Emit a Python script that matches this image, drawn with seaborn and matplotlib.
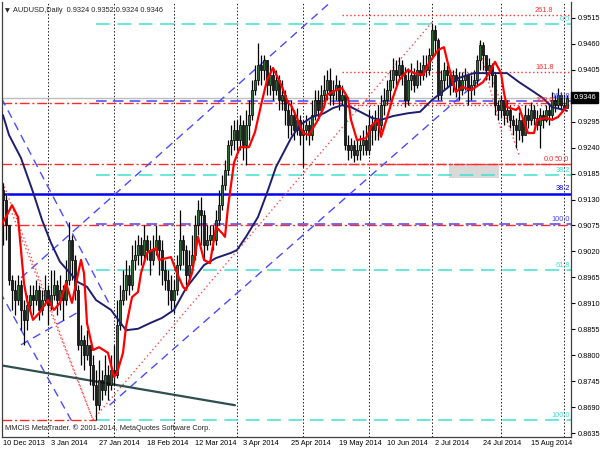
import matplotlib
matplotlib.use("Agg")
import matplotlib.pyplot as plt
import matplotlib.transforms as mtransforms
import numpy as np
import pandas as pd
import seaborn as sns

sns.set_style("white")
plt.rcParams['font.family'] = ['Liberation Sans', 'DejaVu Sans']

# ---------------- data ----------------
first_open = 0.9150
closes = [
    0.9129, 0.9076, 0.8959, 0.8938, 0.8917, 0.8949, 0.8896, 0.8875, 0.8906, 0.8928,
    0.8917, 0.8938, 0.8896, 0.8917, 0.8938, 0.8906, 0.8928, 0.8949, 0.8917, 0.8938,
    0.8917, 0.8959, 0.9044, 0.9002, 0.8938, 0.8822, 0.8832, 0.8801, 0.8822, 0.8779,
    0.8737, 0.8694, 0.8747, 0.8726, 0.8758, 0.8737, 0.8769, 0.8758, 0.8864, 0.8917,
    0.8938, 0.8970, 0.8949, 0.9002, 0.9012, 0.9034, 0.9012, 0.9044, 0.9023, 0.9002,
    0.9023, 0.9044, 0.9023, 0.8981, 0.8959, 0.8938, 0.8917, 0.8938, 0.8991, 0.9044,
    0.9023, 0.8970, 0.8991, 0.9012, 0.9076, 0.9108, 0.9097, 0.9034, 0.9044, 0.9055,
    0.9044, 0.9087, 0.9118, 0.9161, 0.9193, 0.9246, 0.9256, 0.9277, 0.9256, 0.9288,
    0.9246, 0.9288, 0.9309, 0.9362, 0.9383, 0.9415, 0.9405, 0.9426, 0.9373, 0.9394,
    0.9362, 0.9383, 0.9341, 0.9352, 0.9320, 0.9288, 0.9309, 0.9277, 0.9299, 0.9267,
    0.9277, 0.9288, 0.9267, 0.9309, 0.9341, 0.9320, 0.9352, 0.9362, 0.9383, 0.9352,
    0.9362, 0.9373, 0.9341, 0.9352, 0.9246, 0.9235, 0.9246, 0.9224, 0.9235, 0.9246,
    0.9256, 0.9235, 0.9288, 0.9277, 0.9299, 0.9288, 0.9330, 0.9341, 0.9362, 0.9383,
    0.9405, 0.9394, 0.9415, 0.9394, 0.9341, 0.9383, 0.9394, 0.9373, 0.9405, 0.9394,
    0.9415, 0.9405, 0.9436, 0.9489, 0.9468, 0.9352, 0.9383, 0.9405, 0.9394, 0.9373,
    0.9394, 0.9383, 0.9362, 0.9383, 0.9394, 0.9362, 0.9373, 0.9383, 0.9426, 0.9458,
    0.9436, 0.9405, 0.9415, 0.9394, 0.9330, 0.9320, 0.9341, 0.9309, 0.9320, 0.9299,
    0.9288, 0.9277, 0.9299, 0.9267, 0.9309, 0.9299, 0.9320, 0.9303, 0.9288, 0.9309,
    0.9299, 0.9320, 0.9309, 0.9341, 0.9330, 0.9352, 0.9330, 0.9324, 0.9346]
highs = [
    0.9165, 0.9140, 0.9065, 0.8970, 0.8959, 0.8970, 0.8959, 0.8917, 0.8928, 0.8949,
    0.8949, 0.8959, 0.8949, 0.8938, 0.8970, 0.8949, 0.8981, 0.8981, 0.8959, 0.8970,
    0.8949, 0.9002, 0.9082, 0.9055, 0.9012, 0.8949, 0.8864, 0.8843, 0.8853, 0.8822,
    0.8801, 0.8769, 0.8790, 0.8769, 0.8801, 0.8779, 0.8801, 0.8822, 0.8917, 0.8949,
    0.8981, 0.9002, 0.8991, 0.9034, 0.9044, 0.9055, 0.9051, 0.9076, 0.9055, 0.9044,
    0.9055, 0.9076, 0.9055, 0.9044, 0.9002, 0.8981, 0.8970, 0.8959, 0.9012, 0.9108,
    0.9055, 0.9034, 0.9023, 0.9055, 0.9097, 0.9129, 0.9135, 0.9108, 0.9076, 0.9076,
    0.9076, 0.9108, 0.9150, 0.9182, 0.9214, 0.9256, 0.9288, 0.9299, 0.9299, 0.9309,
    0.9299, 0.9320, 0.9341, 0.9383, 0.9415, 0.9462, 0.9436, 0.9436, 0.9426, 0.9415,
    0.9405, 0.9405, 0.9394, 0.9383, 0.9362, 0.9341, 0.9341, 0.9320, 0.9324, 0.9309,
    0.9299, 0.9309, 0.9299, 0.9341, 0.9362, 0.9362, 0.9373, 0.9394, 0.9405, 0.9409,
    0.9383, 0.9394, 0.9383, 0.9373, 0.9358, 0.9267, 0.9260, 0.9256, 0.9256, 0.9267,
    0.9277, 0.9288, 0.9320, 0.9309, 0.9320, 0.9330, 0.9352, 0.9366, 0.9383, 0.9405,
    0.9430, 0.9426, 0.9432, 0.9426, 0.9411, 0.9409, 0.9419, 0.9409, 0.9426, 0.9422,
    0.9436, 0.9436, 0.9451, 0.9504, 0.9500, 0.9472, 0.9405, 0.9422, 0.9415, 0.9405,
    0.9405, 0.9409, 0.9400, 0.9400, 0.9409, 0.9398, 0.9394, 0.9405, 0.9436, 0.9468,
    0.9464, 0.9436, 0.9430, 0.9419, 0.9400, 0.9341, 0.9352, 0.9341, 0.9341, 0.9330,
    0.9309, 0.9303, 0.9316, 0.9303, 0.9330, 0.9324, 0.9337, 0.9330, 0.9320, 0.9324,
    0.9320, 0.9330, 0.9330, 0.9358, 0.9352, 0.9366, 0.9358, 0.9354, 0.9352]
lows = [
    0.9034, 0.9044, 0.8949, 0.8896, 0.8885, 0.8906, 0.8853, 0.8822, 0.8853, 0.8896,
    0.8885, 0.8906, 0.8875, 0.8885, 0.8906, 0.8864, 0.8896, 0.8917, 0.8885, 0.8896,
    0.8875, 0.8906, 0.8949, 0.8959, 0.8917, 0.8811, 0.8779, 0.8769, 0.8790, 0.8737,
    0.8705, 0.8663, 0.8684, 0.8705, 0.8716, 0.8705, 0.8726, 0.8737, 0.8752, 0.8853,
    0.8906, 0.8917, 0.8928, 0.8938, 0.8981, 0.8991, 0.8991, 0.8998, 0.9002, 0.8970,
    0.8991, 0.9012, 0.8970, 0.8949, 0.8938, 0.8906, 0.8896, 0.8889, 0.8928, 0.8981,
    0.8991, 0.8949, 0.8959, 0.8981, 0.9002, 0.9055, 0.9034, 0.9002, 0.9023, 0.9034,
    0.9023, 0.9034, 0.9076, 0.9108, 0.9150, 0.9182, 0.9224, 0.9235, 0.9235, 0.9235,
    0.9214, 0.9203, 0.9256, 0.9299, 0.9352, 0.9373, 0.9373, 0.9383, 0.9352, 0.9352,
    0.9341, 0.9352, 0.9320, 0.9320, 0.9288, 0.9260, 0.9267, 0.9256, 0.9267, 0.9246,
    0.9199, 0.9256, 0.9246, 0.9256, 0.9299, 0.9299, 0.9309, 0.9330, 0.9341, 0.9330,
    0.9330, 0.9341, 0.9320, 0.9330, 0.9235, 0.9214, 0.9218, 0.9210, 0.9214, 0.9214,
    0.9224, 0.9224, 0.9224, 0.9246, 0.9256, 0.9256, 0.9277, 0.9309, 0.9330, 0.9341,
    0.9366, 0.9373, 0.9383, 0.9373, 0.9326, 0.9330, 0.9362, 0.9358, 0.9366, 0.9373,
    0.9383, 0.9390, 0.9394, 0.9430, 0.9436, 0.9341, 0.9341, 0.9362, 0.9366, 0.9352,
    0.9358, 0.9347, 0.9341, 0.9352, 0.9362, 0.9330, 0.9341, 0.9352, 0.9373, 0.9405,
    0.9405, 0.9383, 0.9383, 0.9369, 0.9309, 0.9299, 0.9303, 0.9288, 0.9294, 0.9282,
    0.9267, 0.9239, 0.9256, 0.9252, 0.9267, 0.9282, 0.9288, 0.9288, 0.9277, 0.9239,
    0.9282, 0.9294, 0.9288, 0.9299, 0.9316, 0.9324, 0.9320, 0.9324, 0.9324]

# moving averages (bar index, price)
ma_slow_bars = [0, 2, 6, 10, 13, 16, 19, 25, 28, 31, 36, 39, 41, 45, 49, 53, 57, 61, 67, 71,
                76, 78, 81, 85, 88, 91, 96, 99, 103, 107, 110, 113, 116, 120, 123, 126, 130, 135,
                139, 143, 148, 152, 157, 161, 168, 172, 177, 180, 183, 187, 188]
ma_slow_vals = [0.9309, 0.9267, 0.9218, 0.9146, 0.9087, 0.9038, 0.8998, 0.8955, 0.8945, 0.8917,
                0.8896, 0.8870, 0.8853, 0.8856, 0.8868, 0.8879, 0.8896, 0.8942, 0.8991, 0.9006,
                0.9017, 0.9023, 0.9051, 0.9093, 0.9144, 0.9199, 0.9260, 0.9288, 0.9305, 0.9313,
                0.9324, 0.9330, 0.9326, 0.9313, 0.9303, 0.9299, 0.9307, 0.9313, 0.9316, 0.9341,
                0.9366, 0.9388, 0.9398, 0.9398, 0.9398, 0.9379, 0.9358, 0.9345, 0.9326, 0.9320, 0.9318]
ma_fast_bars = [-1, 1, 3, 5, 7, 8, 10, 12, 15, 17, 19, 21, 23, 26, 27, 28, 30, 32, 35, 37,
                38, 40, 41, 43, 45, 46, 48, 51, 52, 56, 58, 60, 61, 63, 65, 67, 69, 71, 73, 74,
                75, 77, 79, 82, 84, 86, 88, 90, 92, 93, 95, 96, 98, 100, 102, 105, 107, 108, 111,
                113, 115, 116, 118, 121, 123, 125, 126, 128, 130, 132, 135, 137, 140, 142, 145,
                147, 148, 150, 151, 153, 156, 157, 160, 162, 164, 166, 167, 168, 171, 172, 175,
                177, 178, 181, 183, 185, 187, 188]
ma_fast_vals = [0.9072, 0.9093, 0.9118, 0.9093, 0.8953, 0.8917, 0.8875, 0.8889, 0.8917, 0.8896,
                0.8911, 0.8953, 0.8911, 0.9002, 0.8974, 0.8868, 0.8811, 0.8817, 0.8805, 0.8754,
                0.8762, 0.8805, 0.8860, 0.8923, 0.8934, 0.8974, 0.9017, 0.9027, 0.9002, 0.9008,
                0.8974, 0.8945, 0.8938, 0.8974, 0.9051, 0.9002, 0.8995, 0.9072, 0.9059, 0.9051,
                0.9114, 0.9208, 0.9241, 0.9241, 0.9273, 0.9330, 0.9383, 0.9409, 0.9383, 0.9369,
                0.9335, 0.9330, 0.9303, 0.9271, 0.9267, 0.9299, 0.9326, 0.9352, 0.9362,
                0.9366, 0.9345, 0.9299, 0.9256, 0.9260, 0.9288, 0.9299, 0.9263, 0.9303, 0.9347,
                0.9383, 0.9405, 0.9398, 0.9394, 0.9419, 0.9447,
                0.9453, 0.9426, 0.9377, 0.9358, 0.9369, 0.9362, 0.9366, 0.9379, 0.9398, 0.9422,
                0.9398, 0.9356, 0.9326, 0.9320, 0.9326, 0.9271,
                0.9271, 0.9299, 0.9303, 0.9299, 0.9305, 0.9320, 0.9326]

# x axis
date_labels = ["10 Dec 2013", "3 Jan 2014", "27 Jan 2014", "18 Feb 2014", "12 Mar 2014",
               "3 Apr 2014", "25 Apr 2014", "19 May 2014", "10 Jun 2014", "2 Jul 2014",
               "24 Jul 2014", "15 Aug 2014"]
date_bars = [0, 16, 32, 48, 64, 80, 96, 112, 128, 144, 160, 176]
grid_bars = [15, 37, 57, 78, 100, 122, 143, 166, 187]
# y axis (0.9350 is hidden behind the price box in the reference)
price_labels = ["0.8635", "0.8690", "0.8745", "0.8800", "0.8855", "0.8910", "0.8965",
                "0.9020", "0.9075", "0.9130", "0.9185", "0.9240", "0.9295",
                "0.9405", "0.9460", "0.9515"]

# Fibonacci levels
cyan_fib_names = ["0.0", "38.2", "61.8", "100.0"]
cyan_fib_prices = [0.9502, 0.9182, 0.8981, 0.8663]
cyan_fib_start = 31
red_fib_names = ["261.8", "161.8", "100.0", "0.0"]
red_fib_prices = [0.9521, 0.9400, 0.9330, 0.9206]
red_fib_start = 113
blue_dash_names = ["161.8", "100.0"]
blue_dash_prices = [0.9339, 0.9078]
blue_solid_name = "38.2"
blue_solid_price = 0.9142
red_dashdot_prices = [0.9335, 0.9205, 0.9076]
red_low_price = 0.8663
red_low_end = 31
mid_label_name = "50.0"

# trendlines (bar, price) endpoints
blue_trend_x = [(-0.5, 36), (-1, 24), (6, 110), (35.5, 160), (6, 25)]
blue_trend_y = [(0.9345, 0.8902), (0.8934, 0.8648), (0.8964, 0.9553), (0.8694, 0.9390), (0.8822, 0.8891)]
red_trend_x = [(-1, 30), (3, 30), (30, 143), (159, 172.3), (159, 166.3)]
red_trend_y = [(0.9182, 0.8663), (0.9101, 0.8663), (0.8663, 0.9506), (0.9462, 0.9220), (0.9447, 0.9271)]
dark_trend_x = (-1, 77.3)
dark_trend_y = (0.8779, 0.8694)
box_x = (148.7, 165.3)
box_y = (0.9176, 0.9203)

title_text = "AUDUSD,Daily  0.9324 0.9352 0.9324 0.9346"
copyright_text = "MMCIS MetaTrader. \u00a9 2001-2014, MetaQuotes Software Corp."
last_price = closes[-1]

# ---------------- figure ----------------
n = min(len(closes), len(highs), len(lows))
closes, highs, lows = closes[:n], highs[:n], lows[:n]
opens = [first_open] + closes[:-1]
df = pd.DataFrame({"bar": np.arange(n), "open": opens, "high": highs,
                   "low": lows, "close": closes})
df["high"] = df[["high", "open", "close"]].max(axis=1)
df["low"] = df[["low", "open", "close"]].min(axis=1)

fig = plt.figure(figsize=(6, 4.5), dpi=100)
ax = fig.add_axes([2 / 600, 13 / 450, 569 / 600, 435 / 450])
ymin, ymax = 0.86266, 0.95488
xmin, xmax = -0.33, 189.33
ax.set_xlim(xmin, xmax)
ax.set_ylim(ymin, ymax)

# grid
ax.vlines(grid_bars, ymin, ymax, colors="#202020", linestyles=(0, (1.5, 2)), lw=0.7, zorder=0.5)

tr_right = mtransforms.blended_transform_factory(ax.transAxes, ax.transData)
fs = 5.3

# horizontal levels
ax.axhline(last_price, color="#BDBDBD", lw=1.0, zorder=1)
for p in red_dashdot_prices:
    ax.axhline(p, color="#FF2A2A", lw=1.0, ls=(0, (7, 2, 1.5, 2)), zorder=1)
ax.hlines(red_low_price, xmin, red_low_end, color="#FF2A2A", lw=1.0, ls=(0, (7, 2, 1.5, 2)), zorder=1)
for name, p in zip(cyan_fib_names, cyan_fib_prices):
    ax.hlines(p, cyan_fib_start, xmax, color="#40E0D0", lw=1.1, ls=(0, (9, 5)), zorder=1)
    ax.text(0.998, p + 0.0002, name, color="#40E0D0", fontsize=fs, ha="right", va="bottom",
            transform=tr_right, zorder=6)
for name, p in zip(red_fib_names, red_fib_prices):
    dash = (0, (1, 1.8)) if name != "0.0" else (0, (3, 1.5))
    ax.hlines(p, red_fib_start, xmax, color="#FF3030", lw=1.0, ls=dash, zorder=1)
    ax.text(183.5, p + 0.0002, name, color="#FF3030", fontsize=fs, ha="right", va="bottom", zorder=6)
ax.text(0.996, red_fib_prices[-1] + 0.0002, mid_label_name, color="#FF3030", fontsize=fs,
        ha="right", va="bottom", transform=tr_right, zorder=6)
for name, p in zip(blue_dash_names, blue_dash_prices):
    ax.hlines(p, cyan_fib_start, xmax, color="#4646FF", lw=1.1, ls=(0, (7, 4)), zorder=1)
    ax.text(0.998, p + 0.0002, name, color="#4646FF", fontsize=fs, ha="right", va="bottom",
            transform=tr_right, zorder=6)
ax.axhline(blue_solid_price, color="#0000F0", lw=1.8, zorder=1)
ax.text(0.998, blue_solid_price + 0.0003, blue_solid_name, color="#0000F0", fontsize=fs,
        ha="right", va="bottom", transform=tr_right, zorder=6)

# gray box
ax.fill_between(box_x, box_y[0], box_y[1], color="#D9D9D9", lw=0, zorder=0.8)

# trendlines
for xs, ys in zip(blue_trend_x, blue_trend_y):
    ax.plot(xs, ys, color="#4B4BFF", lw=1.0, ls=(0, (6, 4)), zorder=1.2)
for xs, ys in zip(red_trend_x, red_trend_y):
    ax.plot(xs, ys, color="#FF4A4A", lw=1.0, ls=(0, (1, 2)), zorder=1.2)
ax.plot(dark_trend_x, dark_trend_y, color="#2F4F4F", lw=1.6, zorder=1.3)

# candles
bull = df["close"] >= df["open"]
ax.vlines(df["bar"], df["low"], df["high"], colors="black", lw=0.9, zorder=2)
body_lo = df[["open", "close"]].min(axis=1)
body_h = (df["close"] - df["open"]).abs().clip(lower=0.00012)
ax.bar(df["bar"][bull], body_h[bull], bottom=body_lo[bull], width=0.75,
       color="#2E6B34", edgecolor="black", lw=0.5, zorder=2.1)
ax.bar(df["bar"][~bull], body_h[~bull], bottom=body_lo[~bull], width=0.75,
       color="#1E1E1E", edgecolor="black", lw=0.5, zorder=2.1)

# moving averages
sns.lineplot(x=ma_slow_bars, y=ma_slow_vals, color="#1E1E6E", lw=1.4, ax=ax, zorder=3)
sns.lineplot(x=ma_fast_bars, y=ma_fast_vals, color="#FF0000", lw=1.6, ax=ax, zorder=3.1)

# axes styling
ax.spines["top"].set_visible(False)
for s in ["left", "right", "bottom"]:
    ax.spines[s].set_color("#404040")
    ax.spines[s].set_linewidth(0.9)

ax.yaxis.tick_right()
ax.set_yticks([float(v) for v in price_labels])
ax.set_yticklabels(price_labels)
ax.set_xticks(date_bars)
ax.set_xticklabels(date_labels, ha="left")
ax.tick_params(axis="y", direction="out", length=3, width=0.8, labelsize=fs, colors="black", pad=1.5)
ax.tick_params(axis="x", direction="out", length=2, width=0.8, labelsize=fs, colors="black", pad=0.5)
ax.set_xlabel("")
ax.set_ylabel("")

# price box
ax.text(1.004, last_price, "0.9346", transform=tr_right, fontsize=fs, color="white",
        ha="left", va="center", zorder=10, clip_on=False,
        bbox=dict(boxstyle="square,pad=0.3", fc="black", ec="black"))

# title & copyright
ax.text(0.006, 0.985, "\u25bc", transform=ax.transAxes, fontsize=4.5, ha="left", va="top",
        family="DejaVu Sans", zorder=10)
ax.text(0.02, 0.988, title_text, transform=ax.transAxes, fontsize=fs, ha="left", va="top", zorder=10)
ax.text(0.006, 0.012, copyright_text, transform=ax.transAxes, fontsize=fs, ha="left",
        va="bottom", zorder=10)

fig.savefig("out.png", dpi=100)
